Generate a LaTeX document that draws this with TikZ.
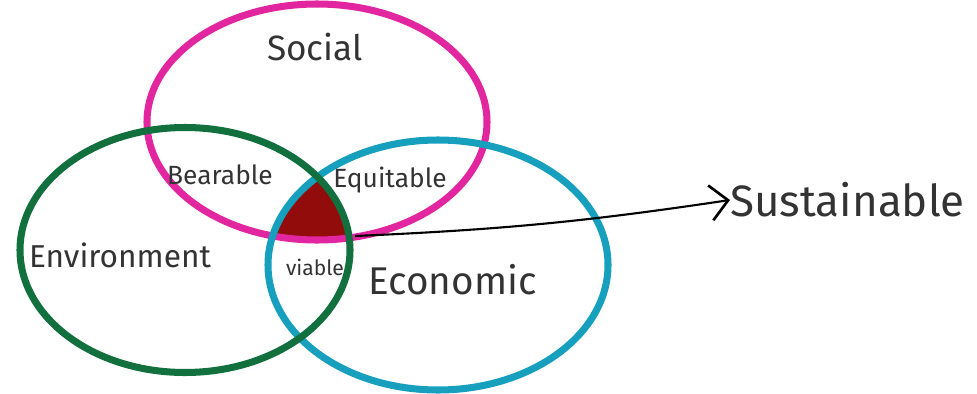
\documentclass[tikz,border=0pt]{standalone}
\usepackage{fontspec}
\setmainfont{Fira Sans}
\usetikzlibrary{arrows.meta}

\definecolor{socialpink}{RGB}{226,38,160}
\definecolor{envgreen}{RGB}{18,112,62}
\definecolor{ecocyan}{RGB}{22,160,190}
\definecolor{corered}{RGB}{145,12,10}

\begin{document}
\begin{tikzpicture}[ring/.style={line width=4pt},
  lbl/.style={text=black!80, inner sep=0pt}]
\useasboundingbox (0,0) rectangle (19.54,-7.88);
% centres of the three circles
\coordinate (soc) at (6.34,-2.44);
\coordinate (env) at (3.7,-5.0);
\coordinate (eco) at (8.76,-5.3);

% shared core
\begin{scope}
  \clip (soc) ellipse [x radius=3.4, y radius=2.36];
  \clip (env) ellipse [x radius=3.3, y radius=2.45];
  \fill[corered] (eco) ellipse [x radius=3.4, y radius=2.5];
\end{scope}

\draw[ring, socialpink] (soc) ellipse [x radius=3.4, y radius=2.36];
\draw[ring, ecocyan] (eco) ellipse [x radius=3.4, y radius=2.5];
\draw[ring, envgreen] (env) ellipse [x radius=3.3, y radius=2.45];

\node[lbl, font=\fontsize{20}{24}\selectfont] (social) at (6.3,-0.95) {Social};
\node[lbl, font=\fontsize{15}{18}\selectfont] (bear) at (4.4,-3.5) {Bearable};
\node[lbl, font=\fontsize{15}{18}\selectfont] (equi) at (7.8,-3.6) {Equitable};
\node[lbl, font=\fontsize{18}{22}\selectfont] (envir) at (2.4,-5.1) {Environment};
\node[lbl, font=\fontsize{12}{14}\selectfont] (viab) at (6.3,-5.35) {viable};
\node[lbl, font=\fontsize{22}{26}\selectfont] (econ) at (9.05,-5.6) {Economic};
\node[lbl, anchor=west, font=\fontsize{25}{30}\selectfont] (sust) at (14.6,-4.0) {Sustainable};

\coordinate (core) at (7.1,-4.72);
\draw[line width=1.2pt, -{Straight Barb[length=10pt, width=20pt, line width=1.5pt]}] (core) to[bend right=3] (sust.west);
\end{tikzpicture}
\end{document}
